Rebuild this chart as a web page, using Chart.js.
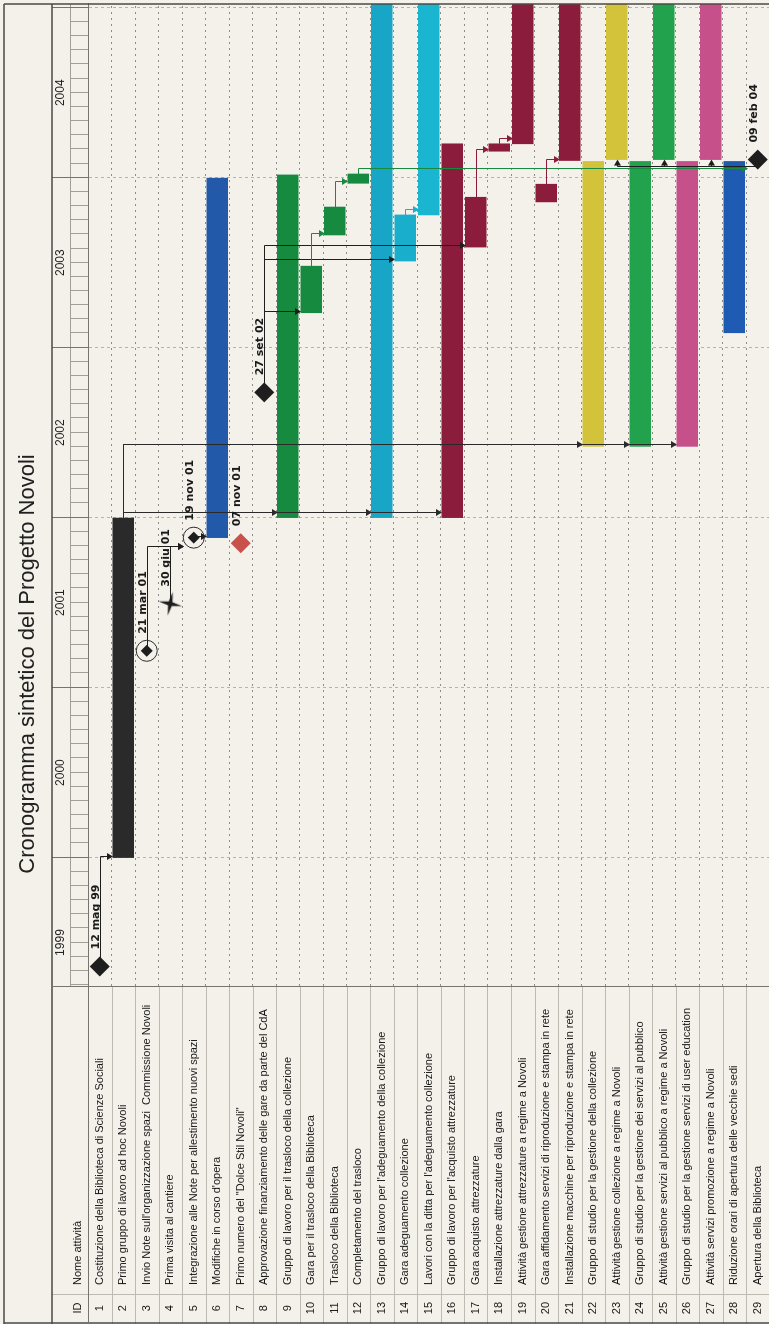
<!DOCTYPE html>
<html>
<head>
<meta charset="utf-8">
<title>Cronogramma sintetico del Progetto Novoli</title>
<script src="https://cdn.jsdelivr.net/npm/chart.js@4.4.0/dist/chart.umd.min.js"></script>
<style>
  html, body { margin: 0; padding: 0; background: #f4f1eb; overflow: hidden; width: 769px; height: 1324px; }
  #wrap { position: absolute; left: 0; top: 0; width: 1324px; height: 772px; transform-origin: 0 0; transform: translateY(1324px) rotate(-90deg); }
</style>
</head>
<body>
<div id="wrap"><canvas id="gantt" width="1324" height="772"></canvas></div>
<script>
// the page is a gantt drawn landscape and then turned a quarter left, like the scan

const taskIds = ["1", "2", "3", "4", "5", "6", "7", "8", "9", "10", "11", "12", "13", "14", "15",
  "16", "17", "18", "19", "20", "21", "22", "23", "24", "25", "26", "27", "28", "29"];

const taskNames = [
  "Costituzione della Biblioteca di Scienze Sociali",
  "Primo gruppo di lavoro ad hoc Novoli",
  "Invio Note sull'organizzazione spazi  Commissione Novoli",
  "Prima visita al cantiere",
  "Integrazione alle Note per allestimento nuovi spazi",
  "Modifiche in corso d'opera",
  "Primo numero del \"Dolce Stil Novoli\"",
  "Approvazione finanziamento delle gare da parte del CdA",
  "Gruppo di lavoro per il trasloco della collezione",
  "Gara per il trasloco della Biblioteca",
  "Trasloco della Biblioteca",
  "Completamento del trasloco",
  "Gruppo di lavoro per l'adeguamento della collezione",
  "Gara adeguamento collezione",
  "Lavori con la ditta per l'adeguamento collezione",
  "Gruppo di lavoro per l'acquisto attrezzature",
  "Gara acquisto attrezzature",
  "Installazione attrezzature dalla gara",
  "Attività gestione attrezzature a regime a Novoli",
  "Gara affidamento servizi di riproduzione e stampa in rete",
  "Installazione macchine per riproduzione e stampa in rete",
  "Gruppo di studio per la gestione della collezione",
  "Attività gestione collezione a regime a Novoli",
  "Gruppo di studio per la gestione dei servizi al pubblico",
  "Attività gestione servizi al pubblico a regime a Novoli",
  "Gruppo di studio per la gestione servizi di user education",
  "Attività servizi promozione a regime a Novoli",
  "Riduzione orari di apertura delle vecchie sedi",
  "Apertura della Biblioteca"
];

const taskKind = ["milestone", "bar", "circled", "star", "circled", "bar", "milestone", "milestone",
  "bar", "bar", "bar", "bar", "bar", "bar", "bar", "bar", "bar", "bar", "bar", "bar", "bar",
  "bar", "bar", "bar", "bar", "bar", "bar", "bar", "milestone"];

const startDates = ["1999-05-12", "2000-01-01", "2001-03-21", "2001-06-30", "2001-11-19",
  "2001-11-19", "2001-11-07", "2002-09-27", "2002-01-01", "2003-03-17", "2003-08-31",
  "2003-12-20", "2002-01-01", "2003-07-06", "2003-10-13", "2002-01-01", "2003-08-05",
  "2004-02-27", "2004-03-14", "2003-11-10", "2004-02-07", "2002-06-03", "2004-02-09",
  "2002-06-03", "2004-02-09", "2002-06-03", "2004-02-09", "2003-02-02", "2004-02-09"];

const endDates = ["1999-05-12", "2001-12-31", "2001-03-21", "2001-06-30", "2001-11-19",
  "2003-12-31", "2001-11-07", "2002-09-27", "2004-01-07", "2003-06-25", "2003-10-30",
  "2004-01-09", "2005-06-30", "2003-10-13", "2005-06-30", "2004-03-14", "2003-11-20",
  "2004-03-14", "2005-06-30", "2003-12-18", "2005-06-30", "2004-02-05", "2005-06-30",
  "2004-02-05", "2005-06-30", "2004-02-05", "2005-06-30", "2004-02-05", "2004-02-09"];

const milestoneLabels = ["12 mag 99", "", "21 mar 01", "30 giu 01", "19 nov 01", "", "07 nov 01",
  "27 set 02", "", "", "", "", "", "", "", "", "", "", "", "", "", "", "", "", "", "", "", "",
  "09 feb 04"];

// predecessor -> successor (task ids)
const links = [[1, 2], [3, 5], [4, 5], [5, 6], [2, 9], [2, 13], [2, 16], [2, 22], [2, 24], [2, 26],
  [8, 10], [8, 14], [8, 17], [10, 11], [11, 12], [12, 29], [14, 15], [17, 18], [18, 19],
  [20, 21], [29, 23], [29, 25], [29, 27]];

const yearTicks = [1999, 2000, 2001, 2002, 2003, 2004];
const viewStart = "1999-03-29";
const viewEnd = "2005-01-09";

// colours
const barColors = [null, "#2a2a2a", null, null, null, "#2259a8", null, null,
  "#168b40", "#168b40", "#168b40", "#168b40", "#17a6c6", "#19aecb", "#1ab6d1",
  "#8b1c3b", "#8b1c3b", "#8b1c3b", "#8b1c3b", "#8b1c3b", "#8b1c3b",
  "#d3c33a", "#d3c33a", "#22a24c", "#22a24c", "#c6508a", "#c6508a", "#1f5ab3", null];
const inkColor = "#1e1e1e";
const msRed = "#c8504d";

function yearOf(s) {
  const d = Date.parse(s + "T00:00:00Z");
  const y = new Date(d).getUTCFullYear();
  const a = Date.UTC(y, 0, 1), b = Date.UTC(y + 1, 0, 1);
  return y + (d - a) / (b - a);
}

function makeStar() {
  const c = document.createElement("canvas");
  c.width = 26; c.height = 26;
  const g = c.getContext("2d");
  g.fillStyle = inkColor;
  g.beginPath();
  for (let k = 0; k < 8; k++) {
    const r = k % 2 === 0 ? 12 : 2.8;
    const a = k * Math.PI / 4 - Math.PI / 2 + 0.2;
    g.lineTo(13 + r * Math.cos(a), 13 + r * Math.sin(a));
  }
  g.closePath();
  g.fill();
  return c;
}
const starImg = makeStar();

const msIdx = taskKind.map((k, i) => (k !== "bar" ? i : -1)).filter(i => i >= 0);
const circIdx = taskKind.map((k, i) => (k === "circled" ? i : -1)).filter(i => i >= 0);

function drawArrow(ctx, x, y, dx, dy, color) {
  const L = 6, w = 3.5;
  ctx.fillStyle = color;
  ctx.beginPath();
  ctx.moveTo(x, y);
  ctx.lineTo(x - dx * L - dy * w, y - dy * L + dx * w);
  ctx.lineTo(x - dx * L + dy * w, y - dy * L - dx * w);
  ctx.closePath();
  ctx.fill();
}

function drawLinks(chart) {
  const ctx = chart.ctx, xs = chart.scales.x, ys = chart.scales.y;
  const r = v => Math.round(v) + 0.5;
  ctx.save();
  ctx.lineWidth = 1;
  links.forEach(([p, s]) => {
    const pi = p - 1, si = s - 1;
    const pBar = taskKind[pi] === "bar", sBar = taskKind[si] === "bar";
    const pu = xs.getPixelForValue(yearOf(pBar ? endDates[pi] : startDates[pi]));
    const su = xs.getPixelForValue(yearOf(startDates[si]));
    const pv = r(ys.getPixelForValue(pi)), sv = r(ys.getPixelForValue(si));
    const col = pBar ? barColors[pi] : inkColor;
    ctx.strokeStyle = col;
    ctx.beginPath();
    if (si > pi) {
      const du = r(sBar ? Math.max(su + 1, pBar ? pu + 5 : pu) : su - 9);
      const tipV = sv - 10.5;
      ctx.moveTo(pu, pv);
      ctx.lineTo(du, pv);
      ctx.lineTo(du, tipV - 5);
      ctx.stroke();
      drawArrow(ctx, du, tipV, 0, 1, col);
    } else {
      const du = r(su - 7);
      ctx.moveTo(pu, pv);
      ctx.lineTo(du, pv);
      ctx.lineTo(du, sv);
      ctx.lineTo(su - 5, sv);
      ctx.stroke();
      drawArrow(ctx, su, sv, 1, 0, col);
    }
  });
  ctx.restore();
}

function drawMilestoneLabels(chart) {
  const ctx = chart.ctx, xs = chart.scales.x, ys = chart.scales.y;
  ctx.save();
  ctx.font = "bold 11px 'DejaVu Sans'";
  ctx.fillStyle = "#1a1a1a";
  ctx.textBaseline = "middle";
  ctx.textAlign = "left";
  milestoneLabels.forEach((t, i) => {
    if (!t) return;
    const u = xs.getPixelForValue(yearOf(startDates[i]));
    ctx.fillText(t, u + 17, ys.getPixelForValue(i) - 4);
  });
  ctx.restore();
}

function drawFrame(chart) {
  const ctx = chart.ctx, a = chart.chartArea, xs = chart.scales.x, ys = chart.scales.y;
  const H = chart.height;
  const line = (x1, y1, x2, y2) => { ctx.beginPath(); ctx.moveTo(x1, y1); ctx.lineTo(x2, y2); ctx.stroke(); };
  ctx.save();
  ctx.lineWidth = 1;

  // table rows and id column
  ctx.strokeStyle = "#bdb9b3";
  for (let k = 0; k <= taskNames.length; k++) {
    const v = Math.round(ys.getPixelForValue(k - 0.5)) + 0.5;
    line(0, v, a.left, v);
  }
  line(29.5, 52, 29.5, H);

  // timescale: months and years
  ctx.strokeStyle = "#a29e98";
  line(a.left, 70.5, a.right, 70.5);
  for (let y = yearTicks[0]; y <= yearTicks[yearTicks.length - 1]; y++) {
    for (let m = 1; m < 12; m++) {
      const u = Math.round(xs.getPixelForValue(y + m / 12)) + 0.5;
      if (u > a.left && u < a.right) line(u, 70.5, u, a.top);
    }
  }
  ctx.strokeStyle = "#77736e";
  for (let y = yearTicks[0] + 1; y <= yearTicks[yearTicks.length - 1] + 1; y++) {
    const u = Math.round(xs.getPixelForValue(y)) + 0.5;
    if (u > a.left && u < a.right) line(u, 52, u, a.top);
  }

  // outer frame
  ctx.strokeStyle = "#4b4946";
  ctx.lineWidth = 1.5;
  line(0, 4, a.right, 4);
  line(a.right, 4, a.right, H);
  line(0, 52, a.right, 52);
  line(1, 4, 1, H);
  ctx.lineWidth = 1;
  ctx.strokeStyle = "#77736e";
  line(a.left + 0.5, 52, a.left + 0.5, H);
  line(0, Math.round(a.top) + 0.5, a.left, Math.round(a.top) + 0.5);

  // table header
  ctx.fillStyle = "#151515";
  ctx.font = "11px 'Liberation Sans'";
  ctx.textBaseline = "middle";
  ctx.textAlign = "center";
  ctx.fillText("ID", 16, 78);
  ctx.textAlign = "left";
  ctx.fillText("Nome attività", 39, 78);
  ctx.restore();
}

const ganttDecor = {
  id: "ganttDecor",
  afterDatasetDraw(chart, args) {
    if (args.meta.type === "bar") drawLinks(chart);
  },
  afterDatasetsDraw(chart) {
    drawMilestoneLabels(chart);
  },
  afterDraw(chart) {
    drawFrame(chart);
  }
};

function noPad(scale) {
  scale.paddingTop = 0;
  scale.paddingBottom = 0;
  scale.paddingLeft = 0;
  scale.paddingRight = 0;
}

Chart.defaults.font.family = "'Liberation Sans', Arial, sans-serif";

new Chart(document.getElementById("gantt"), {
  type: "bar",
  data: {
    labels: taskNames,
    datasets: [
      {
        type: "bar",
        order: 2,
        xAxisID: "x",
        yAxisID: "y",
        data: taskKind.map((k, i) => (k === "bar" ? [yearOf(startDates[i]), yearOf(endDates[i])] : null)),
        backgroundColor: barColors.map(c => c || "rgba(0,0,0,0)"),
        borderWidth: 0,
        borderSkipped: false,
        barThickness: 21
      },
      {
        type: "scatter",
        order: 1,
        xAxisID: "x",
        yAxisID: "y",
        data: msIdx.map(i => ({ x: yearOf(startDates[i]), y: taskNames[i] })),
        pointStyle: msIdx.map(i => (taskKind[i] === "star" ? starImg : "rectRot")),
        pointRadius: msIdx.map(i => (taskKind[i] === "circled" ? 6 : 10)),
        backgroundColor: msIdx.map(i => (i === 6 ? msRed : inkColor)),
        borderColor: msIdx.map(i => (i === 6 ? msRed : inkColor)),
        borderWidth: 0
      },
      {
        type: "scatter",
        order: 0,
        xAxisID: "x",
        yAxisID: "y",
        data: circIdx.map(i => ({ x: yearOf(startDates[i]), y: taskNames[i] })),
        pointStyle: "circle",
        pointRadius: 10.5,
        backgroundColor: "rgba(0,0,0,0)",
        borderColor: "#2a2a2a",
        borderWidth: 1
      }
    ]
  },
  options: {
    indexAxis: "y",
    responsive: false,
    animation: false,
    devicePixelRatio: 1,
    events: [],
    layout: { autoPadding: false, padding: { top: 0, right: 4, bottom: 2.5, left: 0 } },
    plugins: {
      legend: { display: false },
      tooltip: { enabled: false },
      title: {
        display: true,
        text: "Cronogramma sintetico del Progetto Novoli",
        color: "#202020",
        font: { size: 22, weight: "normal", lineHeight: 1.2 },
        padding: { top: 14.6, bottom: 11 }
      }
    },
    scales: {
      x: {
        type: "linear",
        position: "top",
        min: yearOf(viewStart),
        max: yearOf(viewEnd),
        afterBuildTicks: axis => { axis.ticks = yearTicks.map(y => ({ value: y + 0.5 })); },
        afterFit: axis => { axis.height = 36; noPad(axis); },
        ticks: {
          autoSkip: false,
          maxRotation: 0,
          padding: 20,
          color: "#222",
          font: { size: 12 },
          callback: v => String(Math.floor(v))
        },
        grid: { offset: true, drawTicks: false, color: "#b6b2ac" },
        border: { display: true, color: "#77736e", dash: [3, 3] }
      },
      y: {
        type: "category",
        position: "left",
        offset: true,
        weight: 0,
        afterFit: axis => { axis.width = 298; noPad(axis); },
        ticks: {
          autoSkip: false,
          crossAlign: "far",
          padding: 0,
          color: "#151515",
          font: { size: 11 }
        },
        grid: { offset: true, drawTicks: false, color: "#8c8c8c" },
        border: { display: true, color: "#77736e", dash: [2, 4] }
      },
      yid: {
        type: "category",
        position: "left",
        labels: taskIds,
        offset: true,
        weight: 1,
        afterFit: axis => { axis.width = 39; noPad(axis); },
        ticks: {
          autoSkip: false,
          crossAlign: "center",
          padding: 17,
          color: "#151515",
          font: { size: 11 }
        },
        grid: { display: false, drawTicks: false },
        border: { display: false }
      }
    }
  },
  plugins: [ganttDecor]
});
</script>
</body>
</html>
